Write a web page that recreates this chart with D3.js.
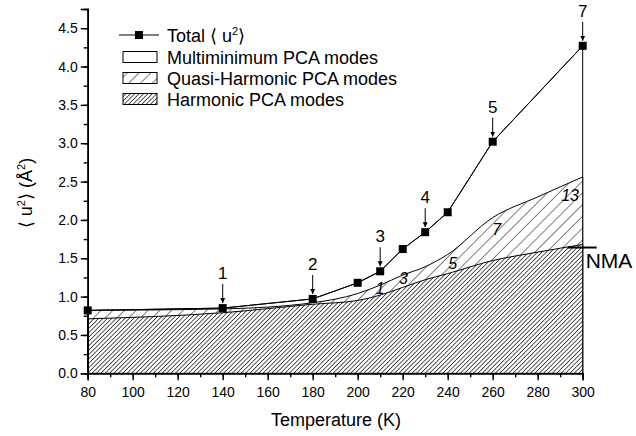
<!DOCTYPE html>
<html>
<head>
<meta charset="utf-8">
<script src="https://cdn.jsdelivr.net/npm/d3@7"></script>
<style>
  html, body { margin: 0; padding: 0; background: #fff; }
  svg { display: block; font-family: "Liberation Sans", Arial, sans-serif; }
</style>
</head>
<body>
<svg id="chart" width="636" height="436"></svg>
<script>
// mean square displacement vs temperature, split by PCA mode class
const totalT = [80, 140, 180, 200, 210, 220, 230, 240, 260, 300];
const totalU2 = [0.82, 0.85, 0.97, 1.18, 1.33, 1.62, 1.84, 2.10, 3.02, 4.27];

const curveT = [80, 140, 180, 200, 210, 220, 230, 240, 260, 280, 300];
const quasiU2 = [0.82, 0.84, 0.92, 1.04, 1.15, 1.28, 1.39, 1.55, 2.03, 2.30, 2.56];
const harmonicU2 = [0.71, 0.79, 0.90, 0.95, 1.02, 1.12, 1.22, 1.30, 1.47, 1.58, 1.68];

const nmaU2 = 1.64;

// arrow annotations on the total curve
const arrowT = [140, 180, 210, 230, 260, 300];
const arrowLabels = ["1", "2", "3", "4", "5", "7"];

// numbers of quasi-harmonic modes written inside the hatched band
const modeT = [209.9, 220.3, 242.2, 261.8, 294.4];
const modeU2 = [1.11, 1.23, 1.43, 1.87, 2.32];
const modeLabels = ["1", "3", "5", "7", "13"];

const xTicks = [80, 100, 120, 140, 160, 180, 200, 220, 240, 260, 280, 300];
const yTicks = [0, 0.5, 1.0, 1.5, 2.0, 2.5, 3.0, 3.5, 4.0, 4.5];

const legendLabels = ["Multiminimum PCA modes", "Quasi-Harmonic PCA modes", "Harmonic PCA modes"];

const svg = d3.select("#chart");
const x = d3.scaleLinear().domain([80, 300]).range([87.7, 582.7]);
const y = d3.scaleLinear().domain([0, 4.75]).range([373.3, 9]);

const defs = svg.append("defs");
function hatch(id, spacing, sw) {
  const p = defs.append("pattern")
    .attr("id", id)
    .attr("patternUnits", "userSpaceOnUse")
    .attr("width", spacing)
    .attr("height", spacing)
    .attr("patternTransform", "rotate(45)");
  p.append("rect").attr("width", spacing).attr("height", spacing).attr("fill", "#fff");
  p.append("line")
    .attr("x1", 0).attr("y1", 0).attr("x2", 0).attr("y2", spacing)
    .attr("stroke", "#000").attr("stroke-width", sw);
}
hatch("sparse", 8.3, 1);
hatch("dense", 3.1, 1.3);

const marker = defs.append("marker")
  .attr("id", "arrow")
  .attr("viewBox", "0 0 10 10")
  .attr("refX", 10).attr("refY", 5)
  .attr("markerWidth", 5).attr("markerHeight", 7)
  .attr("markerUnits", "userSpaceOnUse")
  .attr("orient", "auto");
marker.append("path").attr("d", "M0,0L10,5L0,10Z").attr("fill", "#000");

const totalPts = totalT.map((t, i) => [t, totalU2[i]]);
const quasiPts = curveT.map((t, i) => [t, quasiU2[i]]);
const harmPts = curveT.map((t, i) => [t, harmonicU2[i]]);

const areaLinear = d3.area().x(d => x(d[0])).y0(y(0)).y1(d => y(d[1]));
const areaSmooth = d3.area().curve(d3.curveMonotoneX).x(d => x(d[0])).y0(y(0)).y1(d => y(d[1]));

svg.append("path").datum(totalPts).attr("d", areaLinear)
  .attr("fill", "#fff").attr("stroke", "#000").attr("stroke-width", 1);
svg.append("path").datum(quasiPts).attr("d", areaSmooth)
  .attr("fill", "url(#sparse)").attr("stroke", "#000").attr("stroke-width", 1);
svg.append("path").datum(harmPts).attr("d", areaSmooth)
  .attr("fill", "url(#dense)").attr("stroke", "#000").attr("stroke-width", 1);

// total line and markers
svg.append("path").datum(totalPts)
  .attr("d", d3.line().x(d => x(d[0])).y(d => y(d[1])))
  .attr("fill", "none").attr("stroke", "#000").attr("stroke-width", 1);
svg.append("g").selectAll("rect")
  .data(totalPts)
  .join("rect")
  .attr("x", d => x(d[0]) - 4)
  .attr("y", d => y(d[1]) - 4)
  .attr("width", 8).attr("height", 8)
  .attr("fill", "#000");

// arrows
const arrows = svg.append("g");
arrowT.forEach((t, i) => {
  const v = totalU2[totalT.indexOf(t)];
  arrows.append("line")
    .attr("x1", x(t)).attr("x2", x(t))
    .attr("y1", y(v) - 24).attr("y2", y(v) - 5)
    .attr("stroke", "#000").attr("stroke-width", 1)
    .attr("marker-end", "url(#arrow)");
  arrows.append("text")
    .attr("x", x(t)).attr("y", y(v) - 29)
    .attr("text-anchor", "middle")
    .attr("font-size", 17)
    .text(arrowLabels[i]);
});

// mode counts
svg.append("g").selectAll("text")
  .data(modeLabels)
  .join("text")
  .attr("x", (d, i) => x(modeT[i]))
  .attr("y", (d, i) => y(modeU2[i]) + 5.5)
  .attr("text-anchor", "middle")
  .attr("font-size", 16)
  .attr("font-style", "italic")
  .text(d => d);

// NMA reference
svg.append("line")
  .attr("x1", x(300) - 15).attr("x2", x(300) + 14)
  .attr("y1", y(nmaU2)).attr("y2", y(nmaU2))
  .attr("stroke", "#000").attr("stroke-width", 2);
svg.append("text")
  .attr("x", x(300) + 3).attr("y", y(nmaU2) + 20.5)
  .attr("font-size", 21)
  .text("NMA");

// axes
const xAxis = svg.append("g").attr("transform", `translate(0,${y(0)})`);
xAxis.call(d3.axisBottom(x).tickValues(d3.range(80, 301, 10)).tickSize(4).tickFormat(""));
xAxis.call(g => g.append("g").call(d3.axisBottom(x).tickValues(xTicks).tickSize(7).tickFormat(d3.format("d"))));
xAxis.selectAll(".domain").attr("stroke-width", 1.6);
xAxis.selectAll(".tick line").attr("stroke-width", 1.4);
xAxis.selectAll("text").attr("font-size", 14).attr("fill", "#000")
  .attr("font-family", "'Liberation Sans', Arial, sans-serif").attr("dy", "0.95em");

const yAxis = svg.append("g").attr("transform", `translate(${x(80)},0)`);
yAxis.call(d3.axisLeft(y).tickValues(d3.range(0, 4.76, 0.25)).tickSize(4).tickFormat(""));
yAxis.call(g => g.append("g").call(d3.axisLeft(y).tickValues(yTicks).tickSize(7).tickFormat(d3.format(".1f"))));
yAxis.selectAll(".domain").attr("stroke-width", 1.6);
yAxis.selectAll(".tick line").attr("stroke-width", 1.4);
yAxis.selectAll("text").attr("font-size", 14).attr("fill", "#000")
  .attr("font-family", "'Liberation Sans', Arial, sans-serif");

// axis titles
svg.append("text")
  .attr("x", 336).attr("y", 426)
  .attr("text-anchor", "middle")
  .attr("font-size", 18)
  .text("Temperature (K)");

const yTitle = svg.append("text")
  .attr("transform", "translate(32,193) rotate(-90)")
  .attr("text-anchor", "middle")
  .attr("font-size", 18);
yTitle.append("tspan").text("\u27E8 u");
yTitle.append("tspan").attr("dy", -7).attr("font-size", 11).text("2");
yTitle.append("tspan").attr("dy", 7).text("\u27E9 (\u00C5");
yTitle.append("tspan").attr("dy", -7).attr("font-size", 11).text("2");
yTitle.append("tspan").attr("dy", 7).text(")");

// legend
const legend = svg.append("g");
legend.append("line")
  .attr("x1", 119).attr("x2", 159).attr("y1", 35).attr("y2", 35)
  .attr("stroke", "#000").attr("stroke-width", 1);
legend.append("rect").attr("x", 135).attr("y", 31).attr("width", 8).attr("height", 8).attr("fill", "#000");
const totalLabel = legend.append("text").attr("x", 167).attr("y", 41.5).attr("font-size", 18);
totalLabel.append("tspan").text("Total \u27E8 u");
totalLabel.append("tspan").attr("dy", -7).attr("font-size", 11).text("2");
totalLabel.append("tspan").attr("dy", 7).text("\u27E9");

const fills = ["#fff", "url(#sparse)", "url(#dense)"];
legendLabels.forEach((label, i) => {
  const cy = 57 + i * 21;
  legend.append("rect")
    .attr("x", 123).attr("y", cy - 5.5).attr("width", 34).attr("height", 11)
    .attr("fill", fills[i]).attr("stroke", "#000").attr("stroke-width", 1);
  legend.append("text")
    .attr("x", 167).attr("y", cy + 6.5)
    .attr("font-size", 18)
    .text(label);
});
</script>
</body>
</html>
